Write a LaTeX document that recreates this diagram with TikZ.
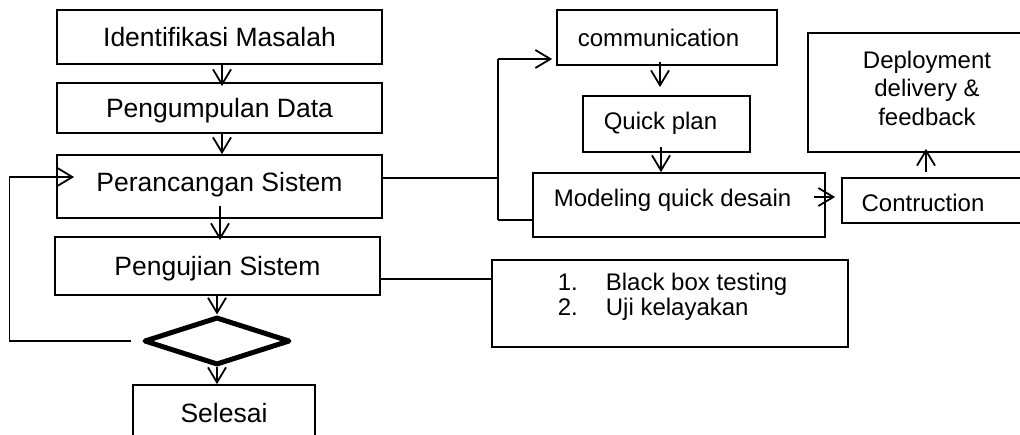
\documentclass[tikz,border=0pt]{standalone}
\usepackage{fontspec}
\setmainfont{Liberation Sans}
\usetikzlibrary{arrows.meta,shapes.geometric,calc}
\begin{document}
\begin{tikzpicture}[x=1pt,y=-1pt,
  box/.style={draw, line width=1.8pt, inner sep=0pt, rectangle},
  big/.style={font=\fontsize{26.5}{30}\selectfont, inner sep=0pt, text height=19pt, text depth=0pt},
  small/.style={font=\fontsize{24}{28}\selectfont, inner sep=0pt, text height=17.2pt, text depth=0pt},
  multi/.style={font=\fontsize{24}{28.5}\selectfont, inner sep=0pt, align=center},
  conn/.style={line width=1.8pt},
  arr/.style={conn, -{Straight Barb[length=15pt,width=18pt]}},
  dec/.style={draw, diamond, line width=5pt, line join=round, inner sep=0pt, minimum width=146pt, minimum height=48pt}]
\useasboundingbox (0,0) rectangle (1020,435);
\fill[white] (0,0) rectangle (1020,435);
\clip (0,0) rectangle (1020,435);

% left column
\node[box, minimum width=325pt, minimum height=54pt,
  label={[big,name=identT]center:Identifikasi Masalah}] (ident) at (219.5,37) {};
\node[box, minimum width=325pt, minimum height=50pt,
  label={[big,name=kumpT]center:Pengumpulan Data}] (kump) at (219.5,108) {};
\node[box, minimum width=325pt, minimum height=63pt,
  label={[big,name=rancT,yshift=4pt]center:Perancangan Sistem}] (ranc) at (219.5,186.5) {};
\node[box, minimum width=325pt, minimum height=58pt,
  label={[big,name=pengT]center:Pengujian Sistem}] (peng) at (217.5,266) {};
\node[dec] (dec) at (217,341) {};
\node[box, minimum width=182pt, minimum height=55pt,
  label={[big,name=selT]center:Selesai}] (sel) at (224,412.5) {};

% right part
\node[box, minimum width=220pt, minimum height=55pt,
  label={[small,name=commT,xshift=-8.5pt]center:communication}] (comm) at (667,37.5) {};
\node[box, minimum width=167pt, minimum height=56pt,
  label={[small,name=quickT,xshift=-6pt,yshift=3pt]center:Quick plan}] (quick) at (666.5,124) {};
\node[box, minimum width=292pt, minimum height=64pt,
  label={[small,name=modelT,xshift=-6.5pt,yshift=7pt]center:Modeling quick desain}] (model) at (679,205) {};
\node[box, minimum width=180pt, minimum height=45pt,
  label={[small,name=contrT,xshift=-9pt,yshift=-2pt]center:Contruction}] (contr) at (932,200.5) {};
\node[box, minimum width=238pt, minimum height=119pt,
  label={[multi,name=deployT,yshift=4.5pt]center:Deployment\\delivery \&\\feedback}] (deploy) at (927,92.5) {};
\node[box, minimum width=356pt, minimum height=87pt,
  label={[font=\fontsize{24}{24}\selectfont,inner sep=0pt,name=bboxT,xshift=2.6pt,yshift=5.5pt]center:{\begin{tabular}{@{}l@{\hspace{28pt}}l@{}}1. & Black box testing\\2. & Uji kelayakan\end{tabular}}}] (bbox) at (670,303.5) {};

% left connectors
\draw[arr] ($(ident.south)+(2.5,0)$) -- ($(kump.north)+(2.5,4)$);
\draw[arr] ($(kump.south)+(2.5,0)$) -- ($(ranc.north)+(2.5,0)$);
\draw[arr] ($(ranc.south)+(0.5,-13)$) -- ($(peng.north)+(2.5,4)$);
\draw[arr] (peng.south -| dec.north) -- (dec.north);
\draw[arr] (dec.south) -- (sel.north -| dec.south);
\draw[arr] ($(dec.west)+(-11,0)$) -- ++(-121,0) |- ($(ranc.west)+(18,-9.5)$);

% branch to prototype model
\coordinate (jt) at (498,59);
\coordinate (jb) at (498,220);
\coordinate (re) at ($(ranc.east)+(0,-8.5)$);
\draw[conn] (re) -- (re -| jt);
\draw[conn] (jt) -- (jb);
\draw[arr] (jt) -- ($(jt -| comm.west)+(-4,0)$);
\draw[conn] (jb) -- (jb -| model.west);
\draw[arr] ($(comm.south)+(-7,-4)$) -- ($(quick.north)+(-6.5,-8)$);
\draw[arr] ($(quick.south)+(-5.5,-6)$) -- ($(model.north)+(-18,0)$);
\draw[arr] ($(model.east)+(-12,-8)$) -- ($(contr.west)+(-6,-3.5)$);
\draw[arr] ($(contr.north)+(-6,-5)$) -- ($(deploy.south)+(-1,-4)$);

% testing branch
\coordinate (pe) at ($(peng.east)+(0,13)$);
\draw[conn] (pe) -- (pe -| bbox.west);
\end{tikzpicture}
\end{document}
